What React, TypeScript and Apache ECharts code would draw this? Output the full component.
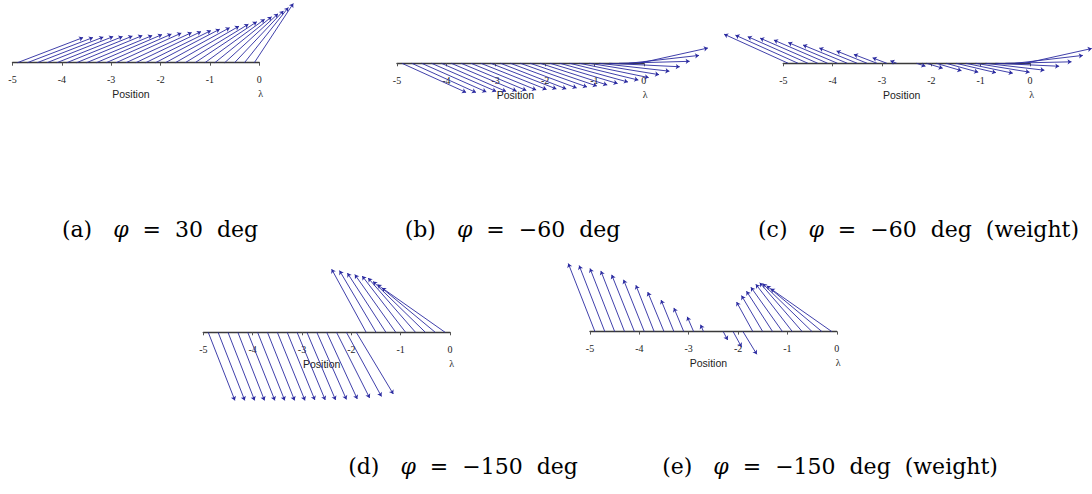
import React, { useEffect, useRef } from "react";
import * as echarts from "echarts";

// ---------- DATA (units of "Position") ----------
const TICKS = [-5, -4, -3, -2, -1, 0];

// arrow tails on the axis
const STARTS = [-4.9, -4.7, -4.5, -4.3, -4.1, -3.9, -3.7, -3.5, -3.3, -3.1, -2.9, -2.7, -2.5,
  -2.3, -2.1, -1.9, -1.7, -1.5, -1.3, -1.1, -0.9, -0.7, -0.5, -0.3, -0.1];
// weighted panels have no arrow at -2.5 (weight ~ 0)
const STARTS_W = [-4.9, -4.7, -4.5, -4.3, -4.1, -3.9, -3.7, -3.5, -3.3, -3.1, -2.9, -2.7,
  -2.3, -2.1, -1.9, -1.7, -1.5, -1.3, -1.1, -0.9, -0.7, -0.5, -0.3, -0.1];

// (a) phi = 30 deg : arrow heads
const A_END_X = [-3.57, -3.37, -3.16, -2.96, -2.77, -2.57, -2.37, -2.17, -1.97, -1.78, -1.58, -1.37, -1.18,
  -0.98, -0.8, -0.6, -0.41, -0.22, -0.05, 0.11, 0.25, 0.38, 0.49, 0.59, 0.69];
const A_END_Y = [0.51, 0.51, 0.52, 0.53, 0.53, 0.54, 0.55, 0.55, 0.57, 0.58, 0.6, 0.61, 0.63,
  0.65, 0.68, 0.71, 0.74, 0.78, 0.83, 0.88, 0.93, 0.99, 1.05, 1.12, 1.2];

// (b) phi = -60 deg
const B_END_X = [-3.6, -3.4, -3.19, -2.99, -2.79, -2.58, -2.38, -2.18, -1.97, -1.77, -1.57, -1.36, -1.15,
  -0.95, -0.74, -0.53, -0.32, -0.11, 0.1, 0.31, 0.52, 0.73, 0.93, 1.12, 1.3];
const B_END_Y = [-0.59, -0.59, -0.58, -0.57, -0.57, -0.56, -0.55, -0.54, -0.53, -0.52, -0.52, -0.5, -0.48,
  -0.46, -0.44, -0.41, -0.38, -0.34, -0.29, -0.23, -0.16, -0.07, 0.04, 0.16, 0.31];

// (c) phi = -60 deg (weight)
const C_END_X = [-6.2, -5.97, -5.72, -5.47, -5.19, -4.9, -4.6, -4.27, -3.92, -3.57, -3.19, -2.83,
  -2.12, -1.77, -1.39, -1.05, -0.69, -0.35, -0.01, 0.29, 0.59, 0.84, 1.07, 1.25];
const C_END_Y = [0.59, 0.57, 0.54, 0.51, 0.47, 0.42, 0.37, 0.31, 0.25, 0.18, 0.11, 0.05,
  -0.06, -0.1, -0.15, -0.18, -0.19, -0.2, -0.18, -0.14, -0.06, 0.03, 0.16, 0.3];

// (d) phi = -150 deg
const D_END_X = [-4.36, -4.16, -3.96, -3.76, -3.55, -3.35, -3.15, -2.94, -2.74, -2.53, -2.32, -2.1, -1.88,
  -1.63, -1.39, -1.15, -2.4, -2.24, -2.08, -1.93, -1.78, -1.66, -1.56, -1.47, -1.38];
const D_END_Y = [-1.38, -1.38, -1.38, -1.38, -1.38, -1.38, -1.38, -1.38, -1.37, -1.37, -1.37, -1.36, -1.35,
  -1.33, -1.3, -1.25, 1.28, 1.25, 1.2, 1.17, 1.14, 1.1, 1.03, 0.97, 0.9];

// (e) phi = -150 deg (weight)
const E_END_X = [-5.44, -5.22, -5.0, -4.78, -4.56, -4.32, -4.07, -3.83, -3.56, -3.3, -3.03, -2.76,
  -2.21, -1.93, -1.62, -2.03, -1.93, -1.83, -1.74, -1.64, -1.56, -1.5, -1.42, -1.34];
const E_END_Y = [1.38, 1.34, 1.28, 1.23, 1.15, 1.05, 0.94, 0.8, 0.64, 0.48, 0.3, 0.14,
  -0.17, -0.31, -0.46, 0.6, 0.73, 0.82, 0.9, 0.96, 0.99, 0.97, 0.93, 0.87];

const CAPTIONS = [
  { tag: "(a)", value: "30", extra: "" },
  { tag: "(b)", value: "\u221260", extra: "" },
  { tag: "(c)", value: "\u221260", extra: "(weight)" },
  { tag: "(d)", value: "\u2212150", extra: "" },
  { tag: "(e)", value: "\u2212150", extra: "(weight)" },
];

// ---------- LAYOUT ----------
const U = 49.35; // px per unit
const PANELS = [
  { x0: 12.5, axisY: 62.7, capX: 160, capY: 229 },
  { x0: 397.0, axisY: 63.3, capX: 512.5, capY: 229 },
  { x0: 783.3, axisY: 63.3, capX: 918.5, capY: 229 },
  { x0: 203.3, axisY: 332.3, capX: 463, capY: 466 },
  { x0: 590.0, axisY: 331.6, capX: 830, capY: 466 },
];
const BLUE = "#2a2aa0";
const SERIF = "'Liberation Serif', 'DejaVu Serif', serif";
const CAP_SERIF = "'DejaVu Serif', serif";
const SANS = "'Liberation Sans', Arial, sans-serif";

function arrows(starts: number[], ex: number[], ey: number[]) {
  return starts.map((s, i) => ({ coords: [[s, 0], [ex[i], ey[i]]] }));
}

export default function App() {
  const ref = useRef<HTMLDivElement>(null);
  useEffect(() => {
    if (!ref.current) return;
    const chart = echarts.init(ref.current, undefined, { renderer: "svg" });
    const sets = [
      arrows(STARTS, A_END_X, A_END_Y),
      arrows(STARTS, B_END_X, B_END_Y),
      arrows(STARTS_W, C_END_X, C_END_Y),
      arrows(STARTS, D_END_X, D_END_Y),
      arrows(STARTS_W, E_END_X, E_END_Y),
    ];
    // the grid's bottom edge is the axis (y = 0); arrows may leave the grid (clip: false)
    const grid = PANELS.map((p) => ({
      left: p.x0, top: p.axisY - U, width: 5 * U, height: U, containLabel: false,
    }));
    const xAxis = PANELS.map((p, i) => ({
      type: "value", gridIndex: i, min: TICKS[0], max: TICKS[TICKS.length - 1], interval: 1,
      position: "bottom",
      axisLine: { show: true, onZero: false, lineStyle: { color: "#3a3a3a", width: 1.4 } },
      axisTick: { show: true, length: 3, lineStyle: { color: "#555", width: 1 } },
      axisLabel: { show: true, margin: 12, fontFamily: SERIF, fontSize: 10, color: "#222" },
      splitLine: { show: false },
      name: "Position", nameLocation: "middle", nameGap: 26,
      nameTextStyle: { fontFamily: SANS, fontSize: 10.5, color: "#222", padding: [0, 10, 0, 0] },
    }));
    const yAxis = PANELS.map((p, i) => ({
      type: "value", gridIndex: i, min: 0, max: 1, show: false,
    }));
    const series = sets.map((data, i) => ({
      type: "lines", coordinateSystem: "cartesian2d", xAxisIndex: i, yAxisIndex: i,
      clip: false, silent: true, symbol: ["none", "arrow"], symbolSize: 4,
      lineStyle: { color: BLUE, width: 0.9, opacity: 1, curveness: 0 },
      data,
    }));
    const graphic: any[] = [];
    PANELS.forEach((p, i) => {
      graphic.push({
        type: "text", x: p.x0 + 5 * U + 1.5, y: p.axisY + 31,
        style: { text: "\u03bb", font: `10px ${SERIF}`, fill: "#222", align: "center", verticalAlign: "middle" },
      });
      const c = CAPTIONS[i];
      const tail = c.extra ? `  ${c.extra}` : "";
      graphic.push({
        type: "text", x: p.capX, y: p.capY,
        style: {
          text: `${c.tag}   {i|\u03c6}  =  ${c.value}  deg${tail}`,
          font: `22px ${CAP_SERIF}`, fill: "#000", align: "center", verticalAlign: "middle",
          rich: { i: { fontFamily: CAP_SERIF, fontSize: 22, fontStyle: "italic", fill: "#000" } },
        },
      });
    });
    chart.setOption({
      animation: false,
      backgroundColor: "#fff",
      grid, xAxis, yAxis, series, graphic,
    });
    return () => chart.dispose();
  }, []);
  return (
    <div
      ref={ref}
      style={{ position: "fixed", left: 0, top: 0, width: 1092, height: 494, background: "#fff" }}
    />
  );
}
